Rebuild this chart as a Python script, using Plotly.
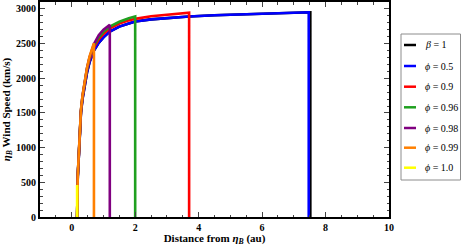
import plotly.graph_objects as go

# Distance from eta_B (au) sampling grid
distance = [0.17, 0.19, 0.22, 0.25, 0.29, 0.34, 0.4, 0.48, 0.56, 0.7, 0.85, 1.0,
            1.2, 1.5, 1.8, 2.0, 2.5, 3.0, 3.7, 4.5, 5.5, 6.5, 7.47]

# Wind speed (km/s) for each case
speed_beta1 = [460, 580, 840, 1100, 1500, 1700, 1880, 2080, 2230, 2400, 2510, 2590,
               2673, 2745, 2790, 2818, 2850, 2870, 2890, 2910, 2925, 2940, 2952]
speed_phi050 = [460, 580, 840, 1100, 1500, 1700, 1880, 2080, 2230, 2400, 2510, 2590,
                2673, 2745, 2790, 2818, 2850, 2870, 2890, 2910, 2925, 2940, 2952]
speed_phi090 = [470, 590, 860, 1120, 1520, 1730, 1910, 2120, 2270, 2445, 2560, 2640,
                2720, 2790, 2835, 2857, 2895, 2920, 2945]
speed_phi096 = [480, 600, 870, 1130, 1530, 1740, 1920, 2135, 2290, 2475, 2590, 2670,
                2745, 2815, 2865, 2890]
speed_phi098 = [485, 600, 875, 1135, 1535, 1745, 1925, 2145, 2300, 2495, 2620, 2700, 2770]
speed_phi099 = [490, 605, 880, 1140, 1542, 1750, 1928, 2150, 2312, 2506]
speed_phi100 = [460]

end_distance = [7.52, 7.47, 3.7, 2.0, 1.2, 0.7, 0.17]

labels = ["<i>β</i> = 1", "<i>ϕ</i> = 0.5", "<i>ϕ</i> = 0.9", "<i>ϕ</i> = 0.96",
          "<i>ϕ</i> = 0.98", "<i>ϕ</i> = 0.99", "<i>ϕ</i> = 1.0"]
colors = ["#000000", "#0000ff", "#ff0000", "#1fa01f", "#800080", "#ff8000", "#ffff00"]
speeds = [speed_beta1, speed_phi050, speed_phi090, speed_phi096, speed_phi098,
          speed_phi099, speed_phi100]

x_ticks = [0, 2, 4, 6, 8, 10]
y_ticks = [0, 500, 1000, 1500, 2000, 2500, 3000]

fig = go.Figure()
for lab, col, v, end in zip(labels, colors, speeds, end_distance):
    xs = [distance[0]] + distance[:len(v)] + [end, end]
    ys = [0] + v + [v[-1], 0]
    fig.add_trace(go.Scatter(x=xs, y=ys, mode="lines", name=lab,
                             line=dict(color=col, width=2.6), showlegend=False))

# Legend (drawn in paper coordinates to match the framed legend box)
W, L, T, H = 349.0, 40.0, 2.0, 215.0
def px(x):
    return (x - L) / W
def py(y):
    return (T + H - y) / H

shapes = [dict(type="rect", xref="paper", yref="paper", x0=px(401), x1=px(460.5),
               y0=py(180), y1=py(34), line=dict(color="#8c8c8c", width=1),
               fillcolor="white", layer="above")]
annotations = []
entry_y = [45, 66, 86.7, 107.3, 128, 147.7, 167.7]
for lab, col, ey in zip(labels, colors, entry_y):
    shapes.append(dict(type="line", xref="paper", yref="paper", x0=px(404), x1=px(416),
                       y0=py(ey), y1=py(ey), line=dict(color=col, width=2.5), layer="above"))
    annotations.append(dict(xref="paper", yref="paper", x=px(423), y=py(ey), text=lab,
                            showarrow=False, xanchor="left", yanchor="middle",
                            font=dict(family="Liberation Serif", size=10, color="black")))

fig.update_layout(
    width=461, height=246,
    margin=dict(l=40, r=72, t=2, b=29, autoexpand=False),
    plot_bgcolor="white", paper_bgcolor="white",
    shapes=shapes, annotations=annotations,
    font=dict(family="Liberation Serif", color="black"),
)
fig.update_xaxes(
    range=[-1, 10], tickvals=x_ticks, ticks="inside", ticklen=5, tickwidth=1,
    showline=True, linecolor="black", linewidth=2, mirror="ticks", showgrid=False,
    zeroline=False, tickfont=dict(family="Liberation Serif", size=10, weight="bold"),
    minor=dict(ticks="inside", dtick=0.5, tick0=0, ticklen=2.5, tickwidth=1, showgrid=False),
    title=dict(text="Distance from <i>η</i><sub><i>B</i></sub> (au)", standoff=4,
               font=dict(family="Liberation Serif", size=11, weight="bold")),
)
fig.update_yaxes(
    range=[0, 3100], tickvals=y_ticks, ticks="inside", ticklen=5, tickwidth=1,
    showline=True, linecolor="black", linewidth=2, mirror="ticks", showgrid=False,
    zeroline=False, tickfont=dict(family="Liberation Serif", size=10, weight="bold"),
    minor=dict(ticks="inside", dtick=100, tick0=0, ticklen=2.5, tickwidth=1, showgrid=False),
    title=dict(text="<i>η</i><sub><i>B</i></sub> Wind Speed (km/s)", standoff=4,
               font=dict(family="Liberation Serif", size=11, weight="bold")),
)

fig.write_html("out.html", config={"displayModeBar": False},
               post_script="document.body.style.margin='0';")
